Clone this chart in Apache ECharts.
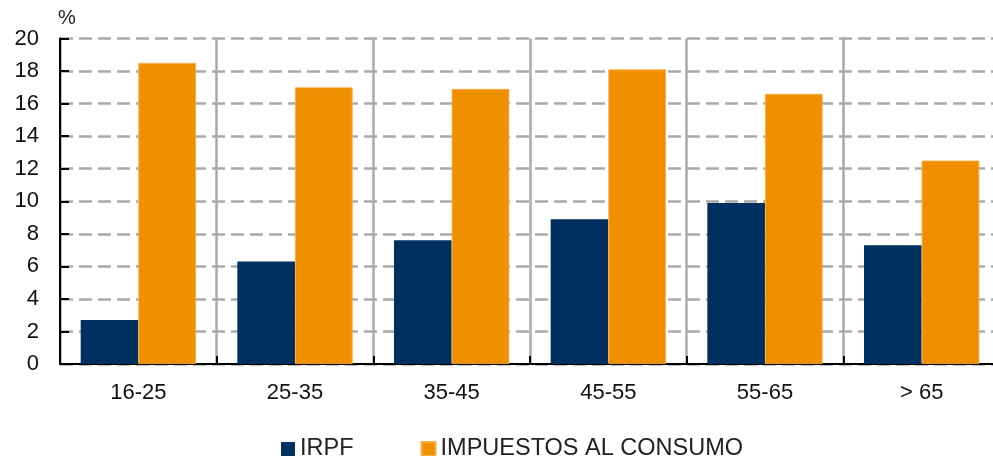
<!DOCTYPE html>
<html>
<head>
<meta charset="utf-8">
<script src="https://cdn.jsdelivr.net/npm/echarts@6/dist/echarts.min.js"></script>
<style>
html,body{margin:0;padding:0;background:#fff;overflow:hidden;}
#chart{width:1000px;height:456px;}
</style>
</head>
<body>
<div id="chart"></div>
<script>
const categories = ['16-25', '25-35', '35-45', '45-55', '55-65', '> 65'];
const irpf = [2.7, 6.3, 7.6, 8.9, 9.9, 7.3];
const consumo = [18.5, 17.0, 16.9, 18.1, 16.6, 12.5];
const seriesNames = ['IRPF', 'IMPUESTOS AL CONSUMO'];
const yTicks = { min: 0, max: 20, interval: 2 };

const FONT = 'Liberation Sans';
const chart = echarts.init(document.getElementById('chart'), null, { renderer: 'canvas' });
chart.setOption({
  animation: false,
  backgroundColor: '#fff',
  textStyle: { fontFamily: FONT },
  grid: { left: 60, top: 38.5, width: 940, height: 325.5, containLabel: false },
  legend: {
    left: 281, top: 437, padding: 0,
    itemWidth: 14, itemHeight: 14, itemGap: 67,
    icon: 'rect',
    textStyle: { fontFamily: FONT, fontSize: 23.5, color: '#222', lineHeight: 14, padding: [3, 0, 0, 0] },
    data: seriesNames
  },
  graphic: [{
    type: 'text', left: 58, top: 8,
    style: { text: '%', font: '20px "Liberation Sans"', fill: '#222' }
  }],
  xAxis: {
    type: 'category',
    data: categories,
    boundaryGap: true,
    axisLine: { lineStyle: { color: '#000', width: 2 } },
    axisTick: { show: true, inside: true, length: 8, alignWithLabel: false, lineStyle: { color: '#000', width: 2 } },
    axisLabel: { fontSize: 22, color: '#111', margin: 18, fontFamily: FONT },
    splitLine: { show: true, lineStyle: { color: '#aaa', width: 2.5, type: 'solid' } }
  },
  yAxis: {
    type: 'value',
    min: yTicks.min, max: yTicks.max, interval: yTicks.interval,
    axisLine: { show: true, lineStyle: { color: '#000', width: 2 } },
    axisTick: { show: true, inside: true, length: 9, lineStyle: { color: '#000', width: 2 } },
    axisLabel: { fontSize: 22, color: '#111', margin: 21, fontFamily: FONT },
    splitLine: { show: true, lineStyle: { color: '#aaa', width: 2.5, type: [13, 6] } }
  },
  series: [
    {
      name: seriesNames[0], type: 'bar', data: irpf,
      barGap: '0%', barCategoryGap: '26.4%',
      itemStyle: { color: '#00305f' }
    },
    {
      name: seriesNames[1], type: 'bar', data: consumo,
      barGap: '0%', barCategoryGap: '26.4%',
      itemStyle: { color: '#f09000', borderColor: '#f6b04a', borderWidth: 0.8 }
    }
  ]
});
</script>
</body>
</html>
